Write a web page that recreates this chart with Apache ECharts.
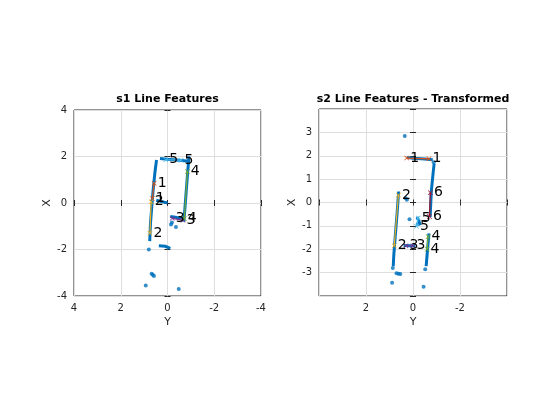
<!DOCTYPE html>
<html>
<head>
<meta charset="utf-8">
<script src="https://cdn.jsdelivr.net/npm/echarts@6/dist/echarts.min.js"></script>
<style>html,body{margin:0;padding:0;background:#fff;}#c{width:560px;height:420px;}</style>
</head>
<body>
<div id="c"></div>
<script>
// Points are [Y, X] (Y on horizontal reversed axis, X vertical)
const titles = ['s1 Line Features', 's2 Line Features - Transformed'];

const s1WallPaths = [
  [[0.47,1.85],[0.54,1.30],[0.62,0.50],[0.66,0.00],[0.73,-0.90],[0.76,-1.64]],
  [[0.32,1.91],[0.00,1.88],[-0.50,1.84],[-0.94,1.80]],
  [[-0.91,1.90],[-0.87,1.40],[-0.80,0.50],[-0.74,-0.30],[-0.70,-0.80]],
  [[-0.12,-0.58],[-0.40,-0.62],[-0.75,-0.66]],
  [[0.48,0.12],[0.20,0.05],[0.00,0.00]],
  [[0.37,-1.84],[0.10,-1.86],[-0.12,-1.95]]
];
const s1Dots = [
  [-0.91,1.95],[0.80,-2.00],[0.68,-3.04],[0.63,-3.09],[0.58,-3.14],
  [0.93,-3.55],[-0.48,-3.70],[-0.36,-1.03],[-0.19,-0.84],[-0.15,-0.92]
];
const s1Features = [
  [[0.57,0.85],[0.65,0.19]],
  [[0.70,0.05],[0.75,-1.30]],
  [[-0.20,-0.66],[-0.66,-0.74]],
  [[-0.85,1.35],[-0.72,-0.68]],
  [[0.07,1.86],[-0.58,1.84]]
];

const s2WallPaths = [
  [[0.27,1.93],[0.00,1.89],[-0.50,1.86],[-0.84,1.83]],
  [[-0.90,1.66],[-0.86,1.30],[-0.78,0.50],[-0.73,-0.62]],
  [[-0.68,-1.32],[-0.62,-2.00],[-0.56,-2.72]],
  [[0.61,0.47],[0.68,-0.50],[0.76,-1.50],[0.82,-2.30],[0.84,-2.72]],
  [[0.40,-1.84],[0.10,-1.85],[-0.10,-1.85]],
  [[-0.17,-0.62],[-0.25,-0.78],[-0.30,-0.98]]
];
const s2Dots = [
  [0.35,2.85],[0.15,-0.72],[0.31,0.18],[0.26,0.12],[-0.52,-2.86],
  [0.86,-2.80],[0.70,-3.03],[0.62,-3.05],[0.54,-3.06],[0.89,-3.43],
  [-0.45,-3.60],[-0.20,-0.92],[-0.88,1.72]
];
const s2Features = [
  [[0.27,1.90],[-0.68,1.87]],
  [[0.62,0.32],[0.80,-1.85]],
  [[0.30,-1.85],[0.00,-1.85]],
  [[-0.64,-1.45],[-0.60,-2.00]],
  [[-0.22,-0.66],[-0.15,-1.02]],
  [[-0.74,0.42],[-0.70,-0.60]]
];

const featureColors = ['#D95319','#EDB120','#7E2F8E','#77AC30','#4DBEEE','#A2142F'];
const blue = '#0072BD';
const xMark = 'path://M0,1L1,0L5,4L9,0L10,1L6,5L10,9L9,10L5,6L1,10L0,9L4,5Z';
const FONT = 'DejaVu Sans';

const grids = [
  {left:74, top:110, width:187, height:186, show:true, borderColor:'#262626', borderWidth:1, backgroundColor:'#fff'},
  {left:319, top:109, width:188, height:187, show:true, borderColor:'#262626', borderWidth:1, backgroundColor:'#fff'}
];

function mainX(gi, interval, hideEdge) {
  return {
    type:'value', gridIndex:gi, min:-4, max:4, interval:interval, inverse:true,
    name:'Y', nameLocation:'middle', nameGap:21,
    nameTextStyle:{color:'#262626', fontSize:11, fontFamily:FONT},
    axisLine:{show:false},
    axisTick:{show:true, inside:true, length:3, lineStyle:{color:'#262626'}},
    axisLabel:{color:'#262626', fontSize:10, fontFamily:FONT, margin:7,
      formatter:v => (hideEdge && Math.abs(v)===4) ? '' : String(v)},
    splitLine:{show:true, lineStyle:{color:'#dedede', width:1}}
  };
}
function mainY(gi, interval, hideEdge) {
  return {
    type:'value', gridIndex:gi, min:-4, max:4, interval:interval,
    name:'X', nameLocation:'middle', nameGap:hideEdge?19:21, nameRotate:90,
    nameTextStyle:{color:'#262626', fontSize:11, fontFamily:FONT},
    axisLine:{show:false},
    axisTick:{show:true, inside:true, length:3, lineStyle:{color:'#262626'}},
    axisLabel:{color:'#262626', fontSize:10, fontFamily:FONT, margin:7,
      formatter:v => (hideEdge && Math.abs(v)===4) ? '' : String(v)},
    splitLine:{show:true, lineStyle:{color:'#dedede', width:1}}
  };
}
function secX(gi, interval) {
  return {type:'value', gridIndex:gi, min:-4, max:4, interval:interval, inverse:true, position:'top',
    axisLine:{show:false}, axisLabel:{show:false}, splitLine:{show:false},
    axisTick:{show:true, inside:true, length:3, lineStyle:{color:'#262626'}}};
}
function secY(gi, interval) {
  return {type:'value', gridIndex:gi, min:-4, max:4, interval:interval, position:'right',
    axisLine:{show:false}, axisLabel:{show:false}, splitLine:{show:false},
    axisTick:{show:true, inside:true, length:3, lineStyle:{color:'#262626'}}};
}

const series = [];
function addPlot(ai, walls, dots, feats) {
  walls.forEach(p => series.push({
    type:'line', xAxisIndex:ai, yAxisIndex:ai, data:p, symbol:'none', silent:true,
    lineStyle:{color:blue, width:3}, z:2, animation:false
  }));
  series.push({
    type:'scatter', xAxisIndex:ai, yAxisIndex:ai, data:dots, symbolSize:4, silent:true,
    itemStyle:{color:blue}, z:2, animation:false
  });
  feats.forEach((f, i) => series.push({
    type:'line', xAxisIndex:ai, yAxisIndex:ai, data:f, symbol:xMark, symbolSize:5, showSymbol:true,
    silent:true, z:4, animation:false,
    lineStyle:{color:featureColors[i], width:1.2},
    itemStyle:{color:featureColors[i]},
    label:{show:true, position:'right', distance:1, formatter:String(i+1),
      color:'#000', fontSize:14, fontFamily:FONT}
  }));
}
addPlot(0, s1WallPaths, s1Dots, s1Features);
addPlot(2, s2WallPaths, s2Dots, s2Features);

const option = {
  animation:false,
  backgroundColor:'#fff',
  title:[
    {text:titles[0], left:167.5, top:94, textAlign:'center', padding:0,
     textStyle:{fontSize:11, fontWeight:'bold', color:'#000', fontFamily:FONT}},
    {text:titles[1], left:413, top:94, textAlign:'center', padding:0,
     textStyle:{fontSize:11, fontWeight:'bold', color:'#000', fontFamily:FONT}}
  ],
  grid:grids,
  xAxis:[mainX(0,2,false), secX(0,2), mainX(1,2,true), secX(1,2)],
  yAxis:[mainY(0,2,false), secY(0,2), mainY(1,1,true), secY(1,1)],
  series:series
};
option.xAxis[2].gridIndex = 1; option.xAxis[3].gridIndex = 1;
option.yAxis[2].gridIndex = 1; option.yAxis[3].gridIndex = 1;

const chart = echarts.init(document.getElementById('c'), null, {renderer:'canvas'});
chart.setOption(option);
</script>
</body>
</html>
